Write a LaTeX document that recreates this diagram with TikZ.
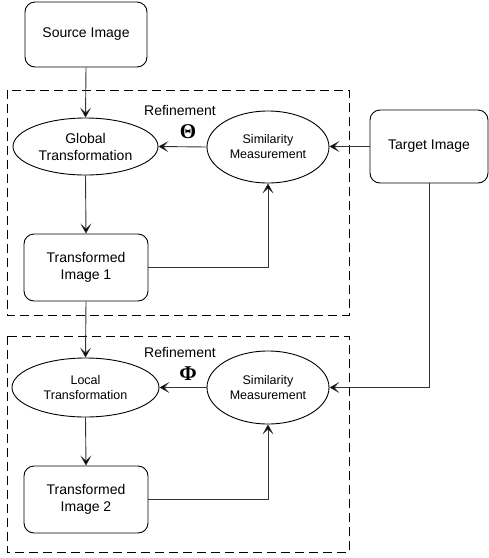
\documentclass[tikz,border=0pt]{standalone}
\usepackage{fontspec}
\setmainfont{Liberation Sans}
\newfontfamily\greekfont{Liberation Serif}
\usetikzlibrary{shapes.geometric,arrows.meta,calc}
\begin{document}
\begin{tikzpicture}[x=1pt,y=-1pt,
  rbox/.style={draw=black,line width=0.9pt,rounded corners=10pt,inner sep=0pt,align=center,font=\fontsize{14}{17}\selectfont},
  ell/.style={draw=black,line width=0.9pt,ellipse,inner sep=0pt,align=center},
  conn/.style={draw=black!80,line width=0.9pt,-{Stealth[length=10pt,width=11pt,inset=5pt,line width=0.6pt,fill=black]}},
  frame/.style={draw=black,line width=0.9pt,dash pattern=on 9pt off 5pt},
  lbl/.style={font=\fontsize{14}{17}\selectfont},
  greek/.style={font=\greekfont\bfseries\fontsize{21}{21}\selectfont}]
\useasboundingbox (0,0) rectangle (489,558);
% frames
\draw[frame] (7,90) rectangle (349,315);
\draw[frame] (7,336) rectangle (349,552);
% nodes
\node[rbox,minimum width=122pt,minimum height=65pt] (src) at (86,34.5) {Source Image};
\node[rbox,minimum width=118pt,minimum height=73pt] (tgt) at (429,146.5) {Target Image};
\node[rbox,minimum width=124pt,minimum height=67pt] (t1) at (86,267.5) {Transformed\\Image 1};
\node[rbox,minimum width=124pt,minimum height=67pt] (t2) at (86,499.5) {Transformed\\Image 2};
\node[ell,minimum width=145pt,minimum height=57pt,font=\fontsize{14}{17}\selectfont] (glob) at (85.5,146.5) {Global\\Transformation};
\node[ell,minimum width=122pt,minimum height=72pt,font=\fontsize{12.5}{15}\selectfont] (sim1) at (268,147) {Similarity\\Measurement};
\node[ell,minimum width=147pt,minimum height=59pt,font=\fontsize{12.5}{15}\selectfont] (loc) at (85.5,387.5) {Local\\Transformation};
\node[ell,minimum width=122pt,minimum height=73pt,font=\fontsize{12.5}{15.5}\selectfont] (sim2) at (268,387.5) {Similarity\\Measurement};
\node[lbl] (ref1) at (180,110) {Refinement};
\node[lbl] (ref2) at (180,352) {Refinement};
\node[greek] (theta) at (188,132) {Θ};
\node[greek] (phi) at (188,374) {Φ};
% connectors
\draw[conn] (src.south) -- (glob.north);
\draw[conn] (glob.south) -- (t1.north);
\draw[conn] (t1.south) -- (loc.north);
\draw[conn] (loc.south) -- (t2.north);
\draw[conn] (sim1.west) -- (glob.east);
\draw[conn] (sim2.west) -- (loc.east);
\draw[conn] (tgt.west) -- (tgt.west -| sim1.east);
\draw[conn] (t1.east) -| (sim1.south);
\draw[conn] (t2.east) -| (sim2.south);
\draw[conn] (tgt.south) |- (sim2.east);
\end{tikzpicture}
\end{document}
